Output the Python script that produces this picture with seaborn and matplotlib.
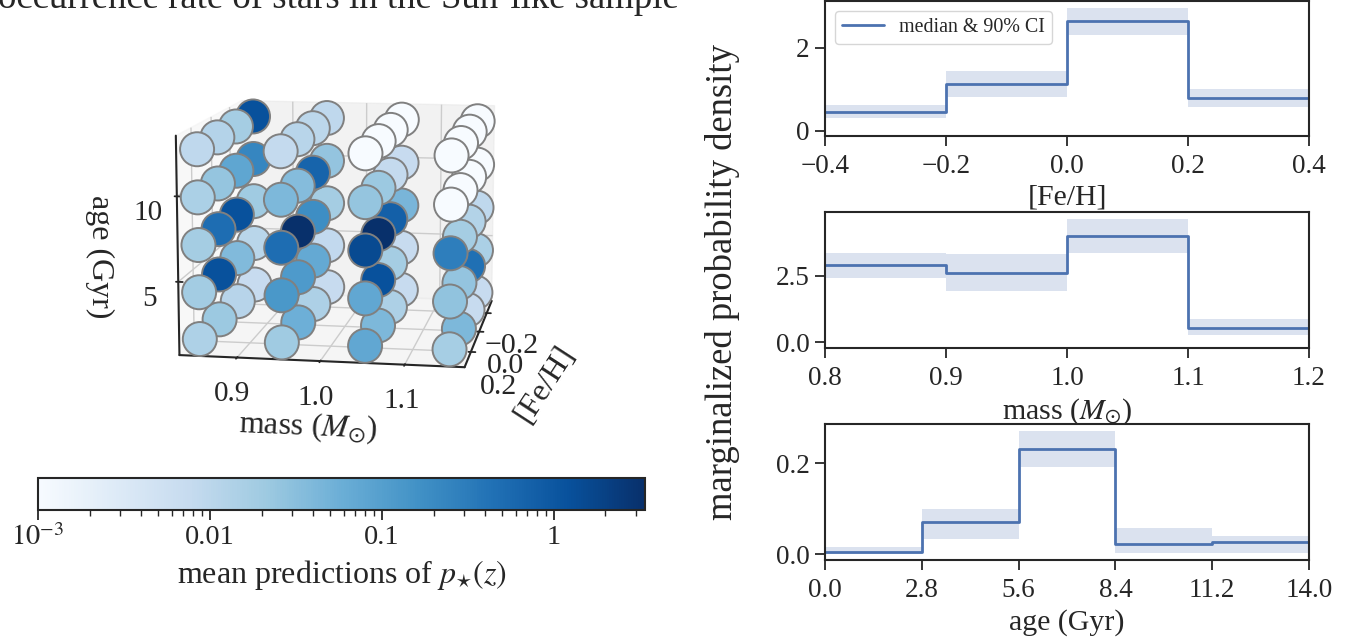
import numpy as np
import pandas as pd
import matplotlib
matplotlib.use("Agg")
import matplotlib.pyplot as plt
from matplotlib.colors import LogNorm
from matplotlib.cm import ScalarMappable
import seaborn as sns

# grid of the 3d panel
masses = [0.85, 0.95, 1.05, 1.15]
fehs = [0.3, 0.1, -0.1, -0.3]
ages = [1.4, 4.2, 7.0, 9.8, 12.6]

# mean predictions, one row per age, front to back in [Fe/H]
rate_m085 = [[.014, .022, .0115, .0076],
             [.019, 1.2, .038, .0105],
             [.018, .5, 1.2, .02],
             [.015, .025, .08, .23],
             [.009, .012, .018, 1.2]]
rate_m095 = [[.02, .055, .0146, .0076],
             [.13, .12, .07, .0085],
             [.5, 3.4, .18, .018],
             [.04, .035, .67, .026],
             [.008, .011, .01, .009]]
rate_m105 = [[.075, .04, .0146, .0076],
             [.075, 1.2, .018, .0076],
             [1.5, 3.4, .75, .045],
             [.025, .022, .008, .0076],
             [.001, .001, .001, .001]]
rate_m115 = [[.017, .04, .0076, .0076],
             [.028, .026, .45, .015],
             [.3, .018, .0125, .009],
             [.001, .001, .001, .001],
             [.001, .001, .001, .001]]
all_rates = [rate_m085, rate_m095, rate_m105, rate_m115]

# marginals
feh_edges = [-0.4, -0.2, 0.0, 0.2, 0.4]
feh_med = [0.46, 1.12, 2.65, 0.78]
feh_lo = [0.30, 0.80, 2.30, 0.56]
feh_hi = [0.62, 1.44, 2.97, 1.00]

mass_edges = [0.8, 0.9, 1.0, 1.1, 1.2]
mass_med = [2.89, 2.60, 4.00, 0.51]
mass_lo = [2.41, 1.94, 3.37, 0.25]
mass_hi = [3.37, 3.31, 4.62, 0.88]

age_edges = [0.0, 2.8, 5.6, 8.4, 11.2, 14.0]
age_med = [0.0044, 0.07, 0.2325, 0.022, 0.027]
age_lo = [0.0, 0.033, 0.193, 0.003, 0.002]
age_hi = [0.0155, 0.10, 0.272, 0.0574, 0.04]

sns.set_theme(style="ticks", palette="deep")
plt.rcParams["font.family"] = ["Liberation Serif", "DejaVu Serif"]
plt.rcParams["mathtext.fontset"] = "stix"
plt.rcParams["axes.linewidth"] = 1.5
plt.rcParams["xtick.major.size"] = 7
plt.rcParams["ytick.major.size"] = 7
plt.rcParams["xtick.major.width"] = 1.3
plt.rcParams["ytick.major.width"] = 1.3
plt.rcParams["axes.unicode_minus"] = True

W, H = 1356, 642
fig = plt.figure(figsize=(W / 100, H / 100), dpi=100)


def px_axes(x0, y0, x1, y1, **kw):
    return fig.add_axes([x0 / W, 1 - y1 / H, (x1 - x0) / W, (y1 - y0) / H], **kw)


def marginal(ax, edges, med, lo, hi, xlabel, yticks, ylim, legend=False):
    blue = sns.color_palette("deep")[0]
    ax.fill_between(edges, lo + lo[-1:], hi + hi[-1:], step="post", color=blue, alpha=0.2, lw=0)
    # last point drops to zero like a histogram outline
    df = pd.DataFrame({"x": edges, "y": med + [0]})
    sns.lineplot(data=df, x="x", y="y", drawstyle="steps-post", estimator=None, color=blue,
                 lw=2, ax=ax, label="median & 90% CI" if legend else None)
    ax.set_xlim(edges[0], edges[-1])
    ax.set_ylim(*ylim)
    ax.set_xticks(edges)
    ax.set_yticks(yticks)
    ax.tick_params(labelsize=19.5, pad=4)
    ax.tick_params(axis="x", pad=6)
    ax.set_xlabel(xlabel, fontsize=21.5, labelpad=4)
    ax.set_ylabel("")
    if legend:
        ax.legend(loc="upper left", fontsize=14.4, frameon=True, handlelength=2.1,
                  handletextpad=0.75, borderaxespad=0.5, borderpad=0.35)
    else:
        if ax.get_legend():
            ax.get_legend().remove()


ax1 = px_axes(825, 1, 1309, 136)
marginal(ax1, feh_edges, feh_med, feh_lo, feh_hi, "[Fe/H]", [0, 2], (-0.13, 3.13), legend=True)
ax2 = px_axes(825, 212, 1309, 348)
marginal(ax2, mass_edges, mass_med, mass_lo, mass_hi, r"mass ($M_{\odot}$)", [0, 2.5], (-0.225, 4.9))
ax2.set_yticklabels(["0.0", "2.5"])
ax3 = px_axes(825, 424, 1309, 560)
marginal(ax3, age_edges, age_med, age_lo, age_hi, "age (Gyr)", [0, 0.2], (-0.0132, 0.287))
ax3.set_yticklabels(["0.0", "0.2"])
fig.text(722 / W, 1 - 282 / H, "marginalized probability density", rotation=90,
         ha="center", va="center", fontsize=26.4)

# 3d scatter
rows = []
for m, table in zip(masses, all_rates):
    for a, row in zip(ages, table):
        for f, r in zip(fehs, row):
            rows.append((m, f, a, r))
grid = pd.DataFrame(rows, columns=["mass", "feh", "age", "rate"])

norm = LogNorm(vmin=1e-3, vmax=3.4)
ax3d = px_axes(107, 12, 571, 448, projection="3d")
ax3d.patch.set_alpha(0)
ax3d.scatter(grid["mass"], grid["feh"], grid["age"], c=grid["rate"], cmap="Blues", norm=norm,
             s=600, edgecolors="gray", linewidths=1.4, depthshade=False, alpha=1)
ax3d.set_xlim(0.83, 1.17)
ax3d.set_ylim(0.34, -0.34)
ax3d.set_zlim(0.65, 13.5)
ax3d.set_box_aspect((3.88, 4, 3), zoom=0.987)
ax3d.set_proj_type("persp", focal_length=0.8)
ax3d.view_init(elev=10.5, azim=-80.5)
ax3d.set_xticks([0.9, 1.0, 1.1])
ax3d.set_yticks([-0.2, 0.0, 0.2])
ax3d.set_zticks([5, 10])
ax3d.tick_params(labelsize=21, pad=5)
ax3d.tick_params(axis="y", labelsize=21.5, pad=8)
ax3d.zaxis.set_ticks_position("upper")
ax3d.zaxis.set_label_position("upper")
ax3d.set_xlabel(r"mass ($M_{\odot}$)", fontsize=23, labelpad=15)
ax3d.yaxis.set_rotate_label(False)
ax3d.zaxis.set_rotate_label(False)
ax3d.set_ylabel("[Fe/H]", fontsize=23, rotation=57, labelpad=19)
ax3d.set_zlabel("age (Gyr)", fontsize=23, rotation=-90, labelpad=14)
for axis in (ax3d.xaxis, ax3d.yaxis, ax3d.zaxis):
    axis.line.set_linewidth(1.5)
    axis.line.set_color(".15")

cax = px_axes(38, 478, 645, 510)
cb = fig.colorbar(ScalarMappable(norm=norm, cmap="Blues"), cax=cax, orientation="horizontal")
cb.set_ticks([1e-3, 1e-2, 1e-1, 1], labels=[r"$10^{-3}$", "0.01", "0.1", "1"])
cb.ax.tick_params(labelsize=20.5, which="major", length=7, width=1.3)
cb.ax.tick_params(which="minor", length=4, width=1)
cb.set_label(r"mean predictions of $p_{\star}(z)$", fontsize=23, labelpad=5)
cb.outline.set_linewidth(1.5)

fig.text(-2 / W, 1 - 7.5 / H, "occurrence rate of stars in the Sun-like sample", fontsize=26.5,
         ha="left", va="baseline")

fig.savefig("out.png", dpi=100)
